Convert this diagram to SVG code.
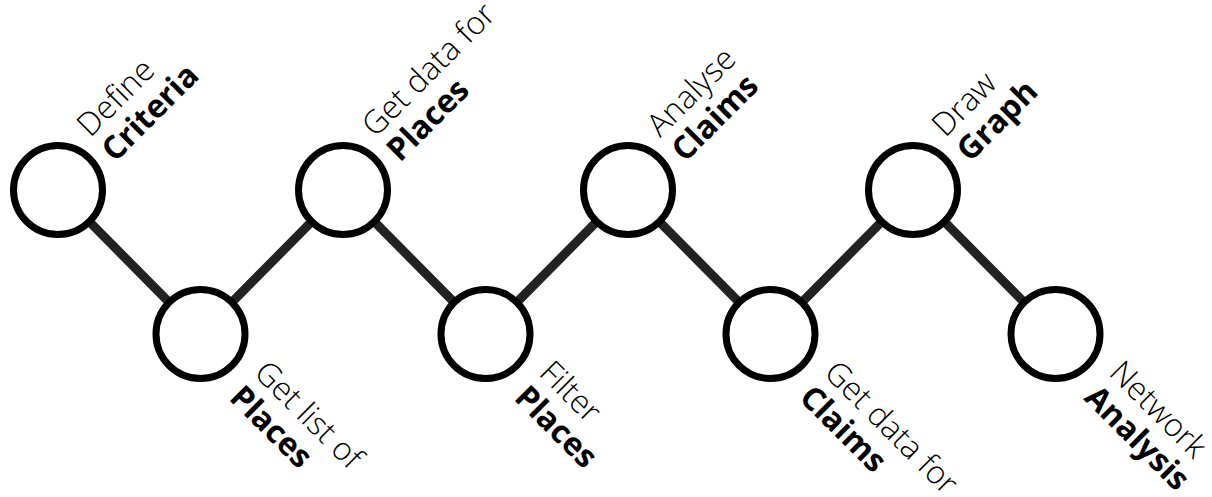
<svg xmlns="http://www.w3.org/2000/svg" width="1212" height="497" viewBox="0 0 1212 497">
<style>
.c{fill:#fff;stroke:#000;stroke-width:7}
.ln{stroke:#222;stroke-width:9;fill:none;stroke-linejoin:round}
text{font-family:"Open Sans","Liberation Sans",sans-serif;font-size:32px;fill:#000}
.l{font-weight:300}
.b{font-weight:700}
</style>
<rect width="1212" height="497" fill="#fff"/>
<g id="connectors">
<polyline class="ln" points="58,190 200.5,334 343,190 485.5,334 628,190 770.5,334 913,190 1055.5,334"/>
</g>
<g id="n1"><circle class="c" cx="58" cy="190" r="44.5"/>
<g transform="translate(115,163) rotate(-45)"><text class="l" y="-35">Define</text><text class="b">Criteria</text></g></g>
<g id="n2"><circle class="c" cx="200.5" cy="334" r="44.5"/>
<g transform="translate(228,399) rotate(45)"><text class="l" y="-35">Get list of</text><text class="b">Places</text></g></g>
<g id="n3"><circle class="c" cx="343" cy="190" r="44.5"/>
<g transform="translate(400,163) rotate(-45)"><text class="l" y="-35">Get data for</text><text class="b">Places</text></g></g>
<g id="n4"><circle class="c" cx="485.5" cy="334" r="44.5"/>
<g transform="translate(513,399) rotate(45)"><text class="l" y="-35">Filter</text><text class="b">Places</text></g></g>
<g id="n5"><circle class="c" cx="628" cy="190" r="44.5"/>
<g transform="translate(685,163) rotate(-45)"><text class="l" y="-35">Analyse</text><text class="b">Claims</text></g></g>
<g id="n6"><circle class="c" cx="770.5" cy="334" r="44.5"/>
<g transform="translate(798,399) rotate(45)"><text class="l" y="-35">Get data for</text><text class="b">Claims</text></g></g>
<g id="n7"><circle class="c" cx="913" cy="190" r="44.5"/>
<g transform="translate(970,163) rotate(-45)"><text class="l" y="-35">Draw</text><text class="b">Graph</text></g></g>
<g id="n8"><circle class="c" cx="1055.5" cy="334" r="44.5"/>
<g transform="translate(1083,399) rotate(45)"><text class="l" y="-35">Network</text><text class="b">Analysis</text></g></g>
</svg>
